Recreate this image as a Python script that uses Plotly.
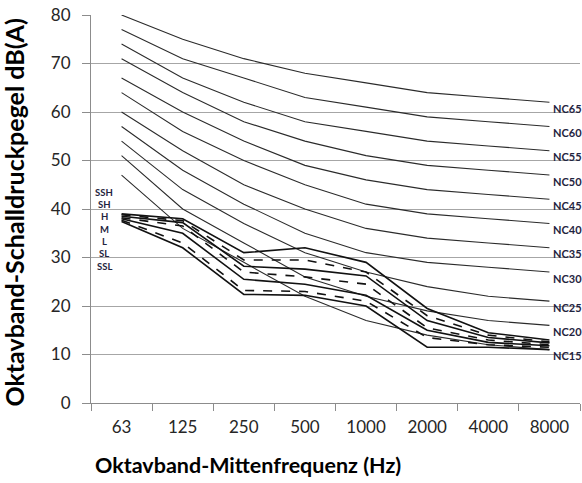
import plotly.graph_objects as go

# ---- data ----
freqs = ["63", "125", "250", "500", "1000", "2000", "4000", "8000"]

nc_names = ["NC65", "NC60", "NC55", "NC50", "NC45", "NC40", "NC35", "NC30", "NC25", "NC20", "NC15"]
NC65 = [80, 75, 71, 68, 66, 64, 63, 62]
NC60 = [77, 71, 67, 63, 61, 59, 58, 57]
NC55 = [74, 67, 62, 58, 56, 54, 53, 52]
NC50 = [71, 64, 58, 54, 51, 49, 48, 47]
NC45 = [67, 60, 54, 49, 46, 44, 43, 42]
NC40 = [64, 56, 50, 45, 41, 39, 38, 37]
NC35 = [60, 52, 45, 40, 36, 34, 33, 32]
NC30 = [57, 48, 41, 35, 31, 29, 28, 27]
NC25 = [54, 44, 37, 31, 27, 24, 22, 21]
NC20 = [51, 40, 33, 26, 22, 19, 17, 16]
NC15 = [47, 36, 29, 22, 17, 14, 12, 11]
nc_curves = [NC65, NC60, NC55, NC50, NC45, NC40, NC35, NC30, NC25, NC20, NC15]

level_names = ["SSH", "SH", "H", "M", "L", "SL", "SSL"]
SSH = [39.0, 38.0, 31.0, 32.0, 29.0, 19.5, 14.5, 13.0]
SH = [38.8, 37.6, 29.5, 29.5, 27.0, 18.0, 14.0, 12.6]
H = [38.5, 37.2, 28.2, 27.6, 26.2, 17.0, 13.5, 12.4]
M = [38.2, 36.5, 27.0, 26.0, 24.5, 15.5, 13.0, 12.0]
L = [38.0, 35.0, 25.5, 24.5, 22.2, 15.0, 12.5, 11.8]
SL = [37.7, 33.0, 23.2, 23.0, 21.0, 13.5, 12.0, 11.5]
SSL = [37.4, 32.0, 22.4, 22.2, 20.0, 11.5, 11.5, 11.0]
level_curves = [SSH, SH, H, M, L, SL, SSL]
level_dash = ["solid", "dash", "solid", "dash", "solid", "dash", "solid"]

y_ticks = [0, 10, 20, 30, 40, 50, 60, 70, 80]

FONT = "Lato"
TXT = "#262626"

fig = go.Figure()

for name, vals in zip(nc_names, nc_curves):
    fig.add_trace(go.Scatter(x=freqs, y=vals, mode="lines", name=name,
                             line=dict(color="#2b2b2b", width=1.1),
                             showlegend=False, hoverinfo="skip"))

for name, vals, dash in zip(level_names, level_curves, level_dash):
    fig.add_trace(go.Scatter(x=freqs, y=vals, mode="lines", name=name,
                             line=dict(color="#111111", width=1.6, dash=dash),
                             showlegend=False, hoverinfo="skip"))

annotations = []
# NC labels at the right end of each curve (category axis -> serial index)
last_idx = len(freqs) - 1
for name, vals in zip(nc_names, nc_curves):
    annotations.append(dict(x=last_idx, y=vals[-1], xref="x", yref="y",
                            text="<b>" + name + "</b>", showarrow=False, xanchor="left",
                            yanchor="middle", xshift=2, yshift=-6,
                            font=dict(family=FONT, size=11, color="#1f2440")))

# level labels on the left
y_top = 43.5
step = 2.55
for i, name in enumerate(level_names):
    annotations.append(dict(x=0.027, y=y_top - i * step, xref="paper", yref="y",
                            text="<b>" + name + "</b>", showarrow=False,
                            xanchor="center", yanchor="middle",
                            font=dict(family=FONT, size=9.5, color="#1f2440")))

# axis titles
annotations.append(dict(x=0.321, y=-0.16, xref="paper", yref="paper",
                        text="<b>Oktavband-Mittenfrequenz (Hz)</b>", showarrow=False,
                        xanchor="center", yanchor="middle",
                        font=dict(family=FONT, size=21.5, color="#000000")))
annotations.append(dict(x=-0.158, y=0.49, xref="paper", yref="paper",
                        text="<b>Oktavband-Schalldruckpegel dB(A)</b>", showarrow=False,
                        xanchor="center", yanchor="middle", textangle=-90,
                        font=dict(family=FONT, size=25, color="#000000")))

fig.update_layout(
    width=582, height=483,
    margin=dict(l=91, r=2, t=15, b=80, autoexpand=False),
    paper_bgcolor="white", plot_bgcolor="white",
    font=dict(family=FONT, color=TXT),
    annotations=annotations,
    xaxis=dict(type="category", categoryorder="array", categoryarray=freqs,
               range=[-0.5, 7.5], showgrid=False, showline=True,
               linecolor="#8c8c8c", linewidth=1, automargin=False,
               ticks="outside", tickson="boundaries", ticklen=7,
               tickcolor="#8c8c8c", tickfont=dict(family=FONT, size=17, color=TXT),
               ticklabelstandoff=9, zeroline=False),
    yaxis=dict(range=[0, 80], tickvals=y_ticks, showgrid=True,
               gridcolor="#a6a6a6", gridwidth=1, showline=True,
               linecolor="#8c8c8c", linewidth=1, ticks="outside", ticklen=8,
               automargin=False,
               tickcolor="#8c8c8c", tickfont=dict(family=FONT, size=17, color=TXT),
               ticklabelstandoff=8, zeroline=False),
)

fig.write_html("out.html", config={"displayModeBar": False},
               post_script="document.body.style.margin='0px';document.body.style.overflow='hidden';")
